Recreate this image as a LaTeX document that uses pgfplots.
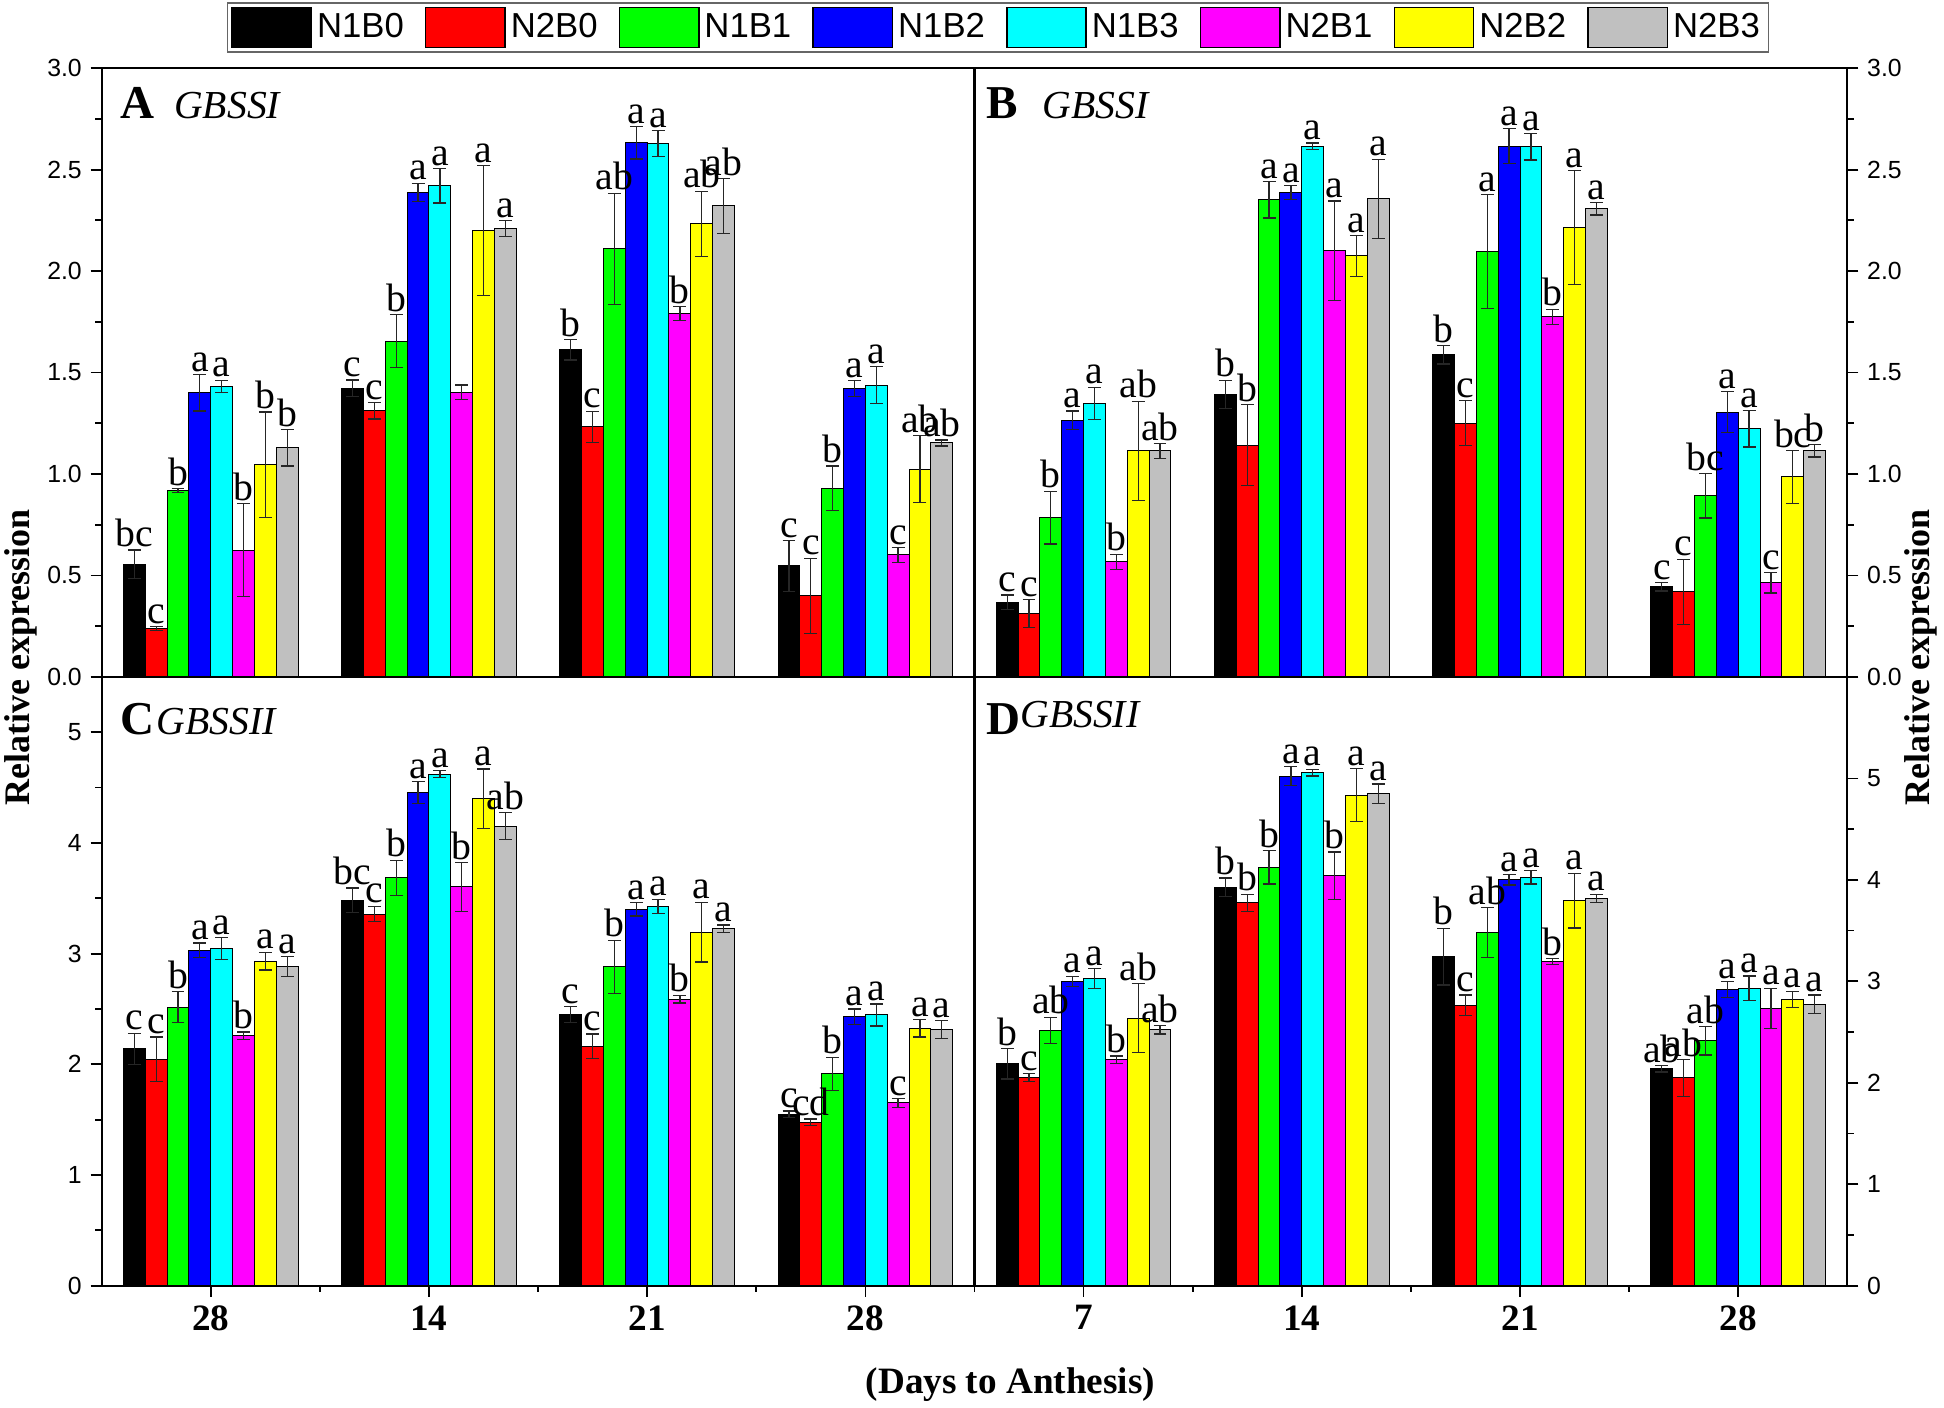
\documentclass[border=0pt]{standalone}
\usepackage{fontspec}
\setmainfont{Liberation Serif}
\setsansfont{Liberation Sans}
\usepackage{pgfplots}
\usepackage{pgfplotstable}
\pgfplotsset{compat=1.18}

\definecolor{cA}{RGB}{0,0,0}
\definecolor{cB}{RGB}{255,0,0}
\definecolor{cC}{RGB}{0,255,0}
\definecolor{cD}{RGB}{0,0,255}
\definecolor{cE}{RGB}{0,255,255}
\definecolor{cF}{RGB}{255,0,255}
\definecolor{cG}{RGB}{255,255,0}
\definecolor{cH}{RGB}{192,192,192}

% Panel A: GBSSI
\pgfplotstableread{
x y1 e1 l1 y2 e2 l2 y3 e3 l3 y4 e4 l4 y5 e5 l5 y6 e6 l6 y7 e7 l7 y8 e8 l8
0 0.556 0.07 bc 0.238 0.01 c 0.919 0.01 b 1.40 0.09 a 1.432 0.03 a 0.625 0.23 b 1.045 0.26 b 1.129 0.09 b
1 1.423 0.04 c 1.311 0.04 c 1.655 0.13 b 2.388 0.045 a 2.42 0.085 a 1.404 0.035 {} 2.20 0.32 a 2.209 0.04 a
2 1.612 0.05 b 1.233 0.076 c 2.109 0.275 ab 2.633 0.08 a 2.628 0.065 a 1.791 0.035 b 2.233 0.16 ab 2.321 0.135 ab
3 0.547 0.125 c 0.40 0.185 c 0.93 0.11 b 1.421 0.04 a 1.438 0.09 a 0.601 0.037 c 1.023 0.165 ab 1.153 0.015 ab
}\tabA
% Panel B: GBSSI
\pgfplotstableread{
x y1 e1 l1 y2 e2 l2 y3 e3 l3 y4 e4 l4 y5 e5 l5 y6 e6 l6 y7 e7 l7 y8 e8 l8
0 0.369 0.035 c 0.312 0.07 c 0.785 0.13 b 1.266 0.045 a 1.348 0.08 a 0.568 0.037 b 1.114 0.245 ab 1.114 0.037 ab
1 1.392 0.07 b 1.142 0.2 b 2.352 0.09 a 2.387 0.035 a 2.616 0.015 a 2.10 0.245 a 2.075 0.1 a 2.356 0.195 a
2 1.587 0.045 b 1.251 0.11 c 2.096 0.28 a 2.616 0.085 a 2.612 0.065 a 1.775 0.037 b 2.215 0.28 a 2.307 0.03 a
3 0.444 0.02 c 0.42 0.16 c 0.893 0.11 bc 1.305 0.1 a 1.223 0.09 a 0.464 0.05 c 0.986 0.13 bc 1.114 0.03 b
}\tabB
% Panel C: GBSSII
\pgfplotstableread{
x y1 e1 l1 y2 e2 l2 y3 e3 l3 y4 e4 l4 y5 e5 l5 y6 e6 l6 y7 e7 l7 y8 e8 l8
0 2.141 0.14 c 2.046 0.2 c 2.515 0.14 b 3.031 0.065 a 3.044 0.1 a 2.257 0.035 b 2.932 0.08 a 2.885 0.09 a
1 3.482 0.11 bc 3.358 0.07 c 3.684 0.16 b 4.454 0.1 a 4.622 0.03 a 3.603 0.22 b 4.398 0.27 a 4.153 0.12 ab
2 2.451 0.07 c 2.163 0.11 c 2.88 0.24 b 3.40 0.06 a 3.426 0.065 a 2.59 0.035 b 3.194 0.27 a 3.224 0.035 a
3 1.548 0.03 c 1.475 0.03 cd 1.913 0.15 b 2.429 0.07 a 2.446 0.1 a 1.651 0.04 c 2.326 0.08 a 2.313 0.08 a
}\tabC
% Panel D: GBSSII
\pgfplotstableread{
x y1 e1 l1 y2 e2 l2 y3 e3 l3 y4 e4 l4 y5 e5 l5 y6 e6 l6 y7 e7 l7 y8 e8 l8
0 2.188 0.15 b 2.052 0.04 c 2.516 0.13 ab 2.999 0.05 a 3.027 0.1 a 2.226 0.037 b 2.638 0.34 ab 2.521 0.04 ab
1 3.927 0.09 b 3.772 0.085 b 4.124 0.165 b 5.023 0.095 a 5.056 0.033 a 4.039 0.235 b 4.836 0.26 a 4.85 0.094 a
2 3.243 0.28 b 2.765 0.1 c 3.482 0.245 ab 4.0 0.05 a 4.025 0.065 a 3.196 0.03 b 3.796 0.27 a 3.819 0.04 a
3 2.137 0.03 ab 2.048 0.18 ab 2.413 0.14 ab 2.919 0.08 a 2.933 0.12 a 2.732 0.2 a 2.821 0.08 a 2.774 0.09 a
}\tabD

\pgfplotsset{
  panel/.style={
    width=352pt, height=245.5pt, scale only axis,
    xmin=-0.5, xmax=3.5, ymin=0, clip=false,
    axis line style={line width=0.9pt},
    every tick/.style={line width=0.7pt, black},
    tick align=outside,
    major tick length=4.5pt, minor tick length=2.5pt,
    /pgf/number format/assume math mode=true,
    yticklabel style={font=\sffamily\fontsize{10}{12}\selectfont},
    xticklabel style={font=\bfseries\fontsize{15}{18}\selectfont},
  },
  bar/.style={
    ybar, bar width=0.1, bar shift=0pt, draw=black, line width=0.4pt, fill=#1,
    /pgfplots/error bars/y dir=both,
    /pgfplots/error bars/y explicit,
    /pgfplots/error bars/error bar style={line width=0.5pt, black!85},
    /pgfplots/error bars/error mark options={rotate=90, mark size=2.6pt, line width=0.5pt, black!85},
  },
  lab/.style={
    draw=none, mark=none, nodes near coords, point meta=explicit symbolic,
    every node near coord/.style={anchor=south, inner sep=1pt, font=\fontsize{16}{17}\selectfont, text=black},
  },
}

\newcommand{\panelplots}[1]{%
  \addplot[bar=cA] table[x expr=\thisrow{x}-0.35,y=y1,y error=e1]{#1};
  \addplot[bar=cB] table[x expr=\thisrow{x}-0.25,y=y2,y error=e2]{#1};
  \addplot[bar=cC] table[x expr=\thisrow{x}-0.15,y=y3,y error=e3]{#1};
  \addplot[bar=cD] table[x expr=\thisrow{x}-0.05,y=y4,y error=e4]{#1};
  \addplot[bar=cE] table[x expr=\thisrow{x}+0.05,y=y5,y error=e5]{#1};
  \addplot[bar=cF] table[x expr=\thisrow{x}+0.15,y=y6,y error=e6]{#1};
  \addplot[bar=cG] table[x expr=\thisrow{x}+0.25,y=y7,y error=e7]{#1};
  \addplot[bar=cH] table[x expr=\thisrow{x}+0.35,y=y8,y error=e8]{#1};
  \addplot[lab] table[x expr=\thisrow{x}-0.35, y expr=\thisrow{y1}+\thisrow{e1}, meta=l1]{#1};
  \addplot[lab] table[x expr=\thisrow{x}-0.25, y expr=\thisrow{y2}+\thisrow{e2}, meta=l2]{#1};
  \addplot[lab] table[x expr=\thisrow{x}-0.15, y expr=\thisrow{y3}+\thisrow{e3}, meta=l3]{#1};
  \addplot[lab] table[x expr=\thisrow{x}-0.05, y expr=\thisrow{y4}+\thisrow{e4}, meta=l4]{#1};
  \addplot[lab] table[x expr=\thisrow{x}+0.05, y expr=\thisrow{y5}+\thisrow{e5}, meta=l5]{#1};
  \addplot[lab] table[x expr=\thisrow{x}+0.15, y expr=\thisrow{y6}+\thisrow{e6}, meta=l6]{#1};
  \addplot[lab] table[x expr=\thisrow{x}+0.25, y expr=\thisrow{y7}+\thisrow{e7}, meta=l7]{#1};
  \addplot[lab] table[x expr=\thisrow{x}+0.35, y expr=\thisrow{y8}+\thisrow{e8}, meta=l8]{#1};
}

\begin{document}
\begin{tikzpicture}
\useasboundingbox (-41pt,-49pt) rectangle (743pt,518.5pt);

% Panel A
\begin{axis}[panel, at={(0pt,245.5pt)}, anchor=south west,
  ymax=3, ytick={0,0.5,1,1.5,2,2.5,3}, minor y tick num=1,
  ytick pos=left, xtick=\empty,
  yticklabel style={/pgf/number format/.cd, fixed, fixed zerofill, precision=1},
  legend image code/.code={\draw[#1] (0pt,-8pt) rectangle (32pt,8pt);},
  legend style={at={(1.027,1.108)}, anchor=north, legend columns=8,
    draw=black!60, line width=0.6pt, inner sep=1.5pt,
    font=\sffamily\fontsize{14}{16}\selectfont,
    /tikz/every even column/.append style={column sep=6.5pt}},
]
\addlegendimage{fill=cA, draw=black}
\addlegendimage{fill=cB, draw=black}
\addlegendimage{fill=cC, draw=black}
\addlegendimage{fill=cD, draw=black}
\addlegendimage{fill=cE, draw=black}
\addlegendimage{fill=cF, draw=black}
\addlegendimage{fill=cG, draw=black}
\addlegendimage{fill=cH, draw=black}
\legend{N1B0,N2B0,N1B1,N1B2,N1B3,N2B1,N2B2,N2B3}
\panelplots{\tabA}
\node[anchor=base west, inner sep=0] at (rel axis cs:0.021,0.918)
  {{\fontsize{19}{20}\selectfont\bfseries A}\hspace{8pt}{\fontsize{16}{18}\selectfont\itshape GBSSI}};
\end{axis}

% Panel B
\begin{axis}[panel, at={(352pt,245.5pt)}, anchor=south west,
  ymax=3, ytick={0,0.5,1,1.5,2,2.5,3}, minor y tick num=1,
  ytick pos=right, yticklabel pos=right, xtick=\empty,
  yticklabel style={/pgf/number format/.cd, fixed, fixed zerofill, precision=1},
]
\panelplots{\tabB}
\node[anchor=base west, inner sep=0] at (rel axis cs:0.013,0.918)
  {{\fontsize{19}{20}\selectfont\bfseries B}\hspace{10pt}{\fontsize{16}{18}\selectfont\itshape GBSSI}};
\end{axis}

% Panel C
\begin{axis}[panel, at={(0pt,0pt)}, anchor=south west,
  ymax=5.5, ytick={0,1,2,3,4,5}, minor y tick num=1,
  ytick pos=left, xtick pos=left,
  xtick={0,1,2,3}, xticklabels={28,14,21,28},
  minor xtick={0.5,1.5,2.5,3.5},
]
\panelplots{\tabC}
\node[anchor=base west, inner sep=0] at (rel axis cs:0.021,0.905)
  {{\fontsize{19}{20}\selectfont\bfseries C}\hspace{1pt}{\fontsize{16}{18}\selectfont\itshape GBSSII}};
\end{axis}

% Panel D
\begin{axis}[panel, at={(352pt,0pt)}, anchor=south west,
  ymax=6, ytick={0,1,2,3,4,5}, minor y tick num=1,
  ytick pos=right, yticklabel pos=right, xtick pos=left,
  xtick={0,1,2,3}, xticklabels={7,14,21,28},
  minor xtick={0.5,1.5,2.5},
]
\panelplots{\tabD}
\node[anchor=base west, inner sep=0] at (rel axis cs:0.013,0.905)
  {{\fontsize{19}{20}\selectfont\bfseries D}\raisebox{3pt}{\fontsize{16}{18}\selectfont\itshape GBSSII}};
\end{axis}

% Axis titles
\node[rotate=90, font=\bfseries\fontsize{14.5}{17}\selectfont] at (-32.5pt,253.5pt) {Relative expression};
\node[rotate=90, font=\bfseries\fontsize{14.5}{17}\selectfont] at (733.5pt,253.5pt) {Relative expression};
\node[font=\bfseries\fontsize{15}{18}\selectfont] at (366.5pt,-40pt) {(Days to Anthesis)};
\end{tikzpicture}
\end{document}
